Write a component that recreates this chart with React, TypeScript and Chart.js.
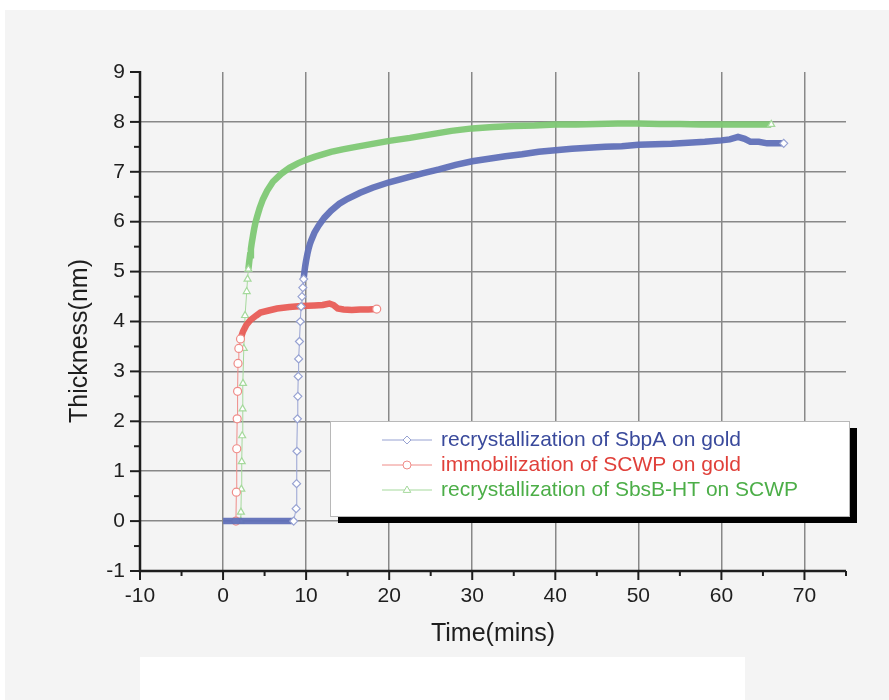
import React, { useEffect, useRef } from "react";
import { Chart, registerables } from "chart.js";

Chart.register(...registerables);

// ---------- data ----------
const sbpaTime = [0, 0.5, 1, 1.5, 2, 2.5, 3, 3.5, 4, 4.5, 5, 5.5, 6, 6.5, 7, 7.5, 8, 8.5,
  8.8, 8.85, 8.9, 8.95, 9.0, 9.05, 9.1, 9.2, 9.3, 9.4, 9.5, 9.6, 9.7, 9.8, 9.9,
  10, 10.15, 10.3, 10.45, 10.6, 11, 11.5, 12.2, 13, 14, 15, 16.5, 18,
  20, 22, 24, 26, 28, 30, 32, 34, 36, 38, 40, 42, 44, 46, 48, 50, 52, 54, 56, 58, 60,
  61, 62, 62.8, 63.5, 64.5, 65.5, 66.5, 67.5];
const sbpaThickness = [0, 0, 0, 0, 0, 0, 0, 0, 0, 0, 0, 0, 0, 0, 0, 0, 0, 0,
  0.25, 0.75, 1.4, 2.05, 2.5, 2.9, 3.25, 3.6, 4.0, 4.3, 4.5, 4.68, 4.85, 5.0, 5.12,
  5.22, 5.35, 5.46, 5.55, 5.62, 5.78, 5.92, 6.08, 6.22, 6.36, 6.46, 6.58, 6.68,
  6.79, 6.88, 6.97, 7.05, 7.14, 7.21, 7.26, 7.31, 7.35, 7.4, 7.43, 7.46, 7.48, 7.5, 7.51, 7.54, 7.55, 7.56, 7.58, 7.6, 7.63,
  7.65, 7.7, 7.66, 7.6, 7.6, 7.57, 7.57, 7.57];

const scwpTime = [1.55, 1.6, 1.65, 1.7, 1.75, 1.8, 1.9, 2.1, 2.4, 2.8,
  3.3, 4, 4.5, 5.5, 6.5, 8, 9.5, 11, 12, 12.8,
  13.3, 13.8, 14.5, 15.5, 16.5, 17.5, 18.5];
const scwpThickness = [0, 0.58, 1.45, 2.05, 2.6, 3.16, 3.46, 3.65, 3.8, 3.93,
  4.03, 4.12, 4.18, 4.22, 4.26, 4.29, 4.31, 4.32, 4.33, 4.36,
  4.33, 4.26, 4.24, 4.23, 4.24, 4.24, 4.25];

const sbsbTime = [2.1, 2.15, 2.2, 2.25, 2.3, 2.35, 2.4, 2.5, 2.65, 2.85,
  2.95, 3.05, 3.15, 3.25, 3.35, 3.45, 3.6, 3.75, 3.9, 4.1, 4.4, 4.8, 5.3, 6,
  7, 8, 9, 10, 11, 12, 13, 14.4, 16, 18,
  20, 22.5, 25, 27.5, 30, 32.5, 35, 37.5, 40, 42.5,
  45, 47.5, 50, 52.5, 55, 57.5, 60, 62.5, 64, 66];
const sbsbThickness = [0, 0.18, 0.64, 1.19, 1.71, 2.25, 2.76, 3.46, 4.12, 4.6,
  4.85, 5.05, 5.2, 5.33, 5.45, 5.57, 5.72, 5.86, 5.98, 6.1, 6.27, 6.45, 6.62, 6.8,
  6.96, 7.08, 7.17, 7.24, 7.3, 7.35, 7.4, 7.45, 7.5, 7.56,
  7.62, 7.68, 7.75, 7.82, 7.87, 7.9, 7.92, 7.93, 7.95, 7.95,
  7.96, 7.97, 7.97, 7.96, 7.96, 7.95, 7.95, 7.95, 7.95, 7.95];

const seriesLabels = [
  "recrystallization of SbpA on gold",
  "immobilization of SCWP on gold",
  "recrystallization of SbsB-HT on SCWP",
];

const xMajorTicks = [-10, 0, 10, 20, 30, 40, 50, 60, 70];
const xMinorTicks = [-5, 5, 15, 25, 35, 45, 55, 65, 75];
const yMajorTicks = [-1, 0, 1, 2, 3, 4, 5, 6, 7, 8, 9];
const yMinorTicks = [-0.5, 0.5, 1.5, 2.5, 3.5, 4.5, 5.5, 6.5, 7.5, 8.5];

const xTitle = "Time(mins)";
const yTitle = "Thickness(nm)";

// ---------- styles ----------
const FONT = "'Liberation Sans', Arial, sans-serif";
const styles = [
  { band: "rgba(96,112,184,0.95)", light: "#97a2d2", text: "#3a4a9c", shape: "rectRot" },
  { band: "rgba(232,92,86,0.95)", light: "#ef8c88", text: "#e0403a", shape: "circle" },
  { band: "rgba(126,200,116,0.95)", light: "#a5d99c", text: "#4cae48", shape: "triangle" },
];

// The steep rise of each series has sparse, separately visible markers; elsewhere
// the dense markers merge into a thick band.
const SPARSE_PX = 8;
function sparsePx(p0: { x: number; y: number }, p1: { x: number; y: number }) {
  const dx = Math.abs(p1.x - p0.x);
  const dy = Math.abs(p1.y - p0.y);
  return dy > 2 * dx && Math.sqrt(dx * dx + dy * dy) > SPARSE_PX;
}

// returns [start, end] indices of the first run of sparse segments
function sparseRun(chart: any, datasetIndex: number): [number, number] {
  const xs = chart.scales.x;
  const ys = chart.scales.y;
  const data = chart.data.datasets[datasetIndex].data as { x: number; y: number }[];
  if (!xs || !ys) return [-1, -1];
  const pts = data.map((d) => ({ x: xs.getPixelForValue(d.x), y: ys.getPixelForValue(d.y) }));
  let s = -1;
  for (let i = 0; i < pts.length - 1; i++) {
    if (sparsePx(pts[i], pts[i + 1])) { s = i; break; }
  }
  if (s < 0) return [-1, -1];
  let e = s;
  while (e < pts.length - 1 && sparsePx(pts[e], pts[e + 1])) e++;
  return [s, e];
}

function makeDataset(label: string, t: number[], v: number[], s: any) {
  return {
    label,
    data: t.map((tt, i) => ({ x: tt, y: v[i] })),
    borderColor: s.band,
    borderWidth: 6.5,
    pointStyle: s.shape,
    pointRadius: (c: any) => {
      const n = c.dataset.data.length;
      if (c.dataIndex === n - 1) return 4;
      const [rs, re] = sparseRun(c.chart, c.datasetIndex);
      return c.dataIndex >= rs && c.dataIndex <= re && rs >= 0 ? 4 : 0;
    },
    pointBorderColor: s.light,
    pointBackgroundColor: "#ffffff",
    pointBorderWidth: 1.2,
    tension: 0,
    fill: false,
    segment: {
      borderWidth: (c: any) => {
        const [rs, re] = sparseRun(c.chart, c.datasetIndex);
        return c.p0DataIndex >= rs && c.p0DataIndex < re ? 1 : 6.5;
      },
      borderColor: (c: any) => {
        const [rs, re] = sparseRun(c.chart, c.datasetIndex);
        return c.p0DataIndex >= rs && c.p0DataIndex < re ? s.light : s.band;
      },
    },
  };
}

function drawMarker(ctx: CanvasRenderingContext2D, shape: string, x: number, y: number, r: number) {
  ctx.beginPath();
  if (shape === "circle") {
    ctx.arc(x, y, r, 0, Math.PI * 2);
  } else if (shape === "rectRot") {
    ctx.moveTo(x, y - r);
    ctx.lineTo(x + r, y);
    ctx.lineTo(x, y + r);
    ctx.lineTo(x - r, y);
    ctx.closePath();
  } else {
    ctx.moveTo(x, y - r);
    ctx.lineTo(x + r * 0.95, y + r * 0.6);
    ctx.lineTo(x - r * 0.95, y + r * 0.6);
    ctx.closePath();
  }
  ctx.fill();
  ctx.stroke();
}

const decorPlugin = {
  id: "decor",
  afterDraw(chart: any) {
    const { ctx, chartArea: a, scales } = chart;
    const x = scales.x;
    const y = scales.y;
    ctx.save();
    // axis lines
    ctx.strokeStyle = "#1e1e1e";
    ctx.lineWidth = 2.5;
    ctx.beginPath();
    ctx.moveTo(a.left, a.top - 1);
    ctx.lineTo(a.left, a.bottom);
    ctx.lineTo(a.right, a.bottom);
    ctx.stroke();
    // ticks
    ctx.lineWidth = 2;
    const seg = (x1: number, y1: number, x2: number, y2: number) => {
      ctx.beginPath();
      ctx.moveTo(x1, y1);
      ctx.lineTo(x2, y2);
      ctx.stroke();
    };
    yMajorTicks.forEach((v) => { const p = y.getPixelForValue(v); seg(a.left - 10, p, a.left, p); });
    yMinorTicks.forEach((v) => { const p = y.getPixelForValue(v); seg(a.left - 6, p, a.left, p); });
    xMajorTicks.forEach((v) => { const p = x.getPixelForValue(v); seg(p, a.bottom, p, a.bottom + 9); });
    xMinorTicks.forEach((v) => { const p = x.getPixelForValue(v); seg(p, a.bottom, p, a.bottom + 5); });

    // titles
    ctx.fillStyle = "#1e1e1e";
    ctx.font = `25px ${FONT}`;
    ctx.textAlign = "center";
    ctx.textBaseline = "middle";
    ctx.fillText(xTitle, (a.left + a.right) / 2, 634);
    ctx.save();
    ctx.translate(80, 341);
    ctx.rotate(-Math.PI / 2);
    ctx.fillText(yTitle, 0, 0);
    ctx.restore();

    // legend box with shadow
    const bx = 330, by = 421, bw = 519, bh = 95;
    ctx.fillStyle = "#000000";
    ctx.fillRect(bx + 8, by + 7, bw, bh);
    ctx.fillStyle = "#ffffff";
    ctx.fillRect(bx, by, bw, bh);
    ctx.strokeStyle = "#b8b8b8";
    ctx.lineWidth = 1;
    ctx.strokeRect(bx + 0.5, by + 0.5, bw, bh);

    const rows = [440, 465, 490];
    ctx.font = `21px ${FONT}`;
    ctx.textAlign = "left";
    chart.data.datasets.forEach((ds: any, i: number) => {
      const s = styles[i];
      const ry = rows[i];
      ctx.strokeStyle = s.light;
      ctx.lineWidth = 1;
      seg(382, ry, 432, ry);
      ctx.fillStyle = "#ffffff";
      drawMarker(ctx, s.shape, 407, ry, 4);
      ctx.fillStyle = s.text;
      ctx.textBaseline = "middle";
      ctx.fillText(ds.label, 441, ry);
    });
    ctx.restore();
  },
};

export default function App() {
  const ref = useRef<HTMLCanvasElement | null>(null);
  useEffect(() => {
    if (!ref.current) return;
    Chart.defaults.font.family = FONT;
    const chart = new Chart(ref.current, {
      type: "line",
      data: {
        datasets: [
          makeDataset(seriesLabels[0], sbpaTime, sbpaThickness, styles[0]),
          makeDataset(seriesLabels[1], scwpTime, scwpThickness, styles[1]),
          makeDataset(seriesLabels[2], sbsbTime, sbsbThickness, styles[2]),
        ] as any,
      },
      options: {
        responsive: false,
        animation: false,
        layout: { padding: { left: 0, right: 43, top: 72, bottom: 0 } },
        plugins: { legend: { display: false }, tooltip: { enabled: false } },
        scales: {
          x: {
            type: "linear",
            min: -10,
            max: 75,
            afterFit: (s: any) => { s.height = 129; },
            afterBuildTicks: (s: any) => { s.ticks = xMajorTicks.map((v) => ({ value: v })); },
            ticks: { font: { size: 21 }, color: "#1e1e1e", padding: 13, maxRotation: 0 },
            grid: {
              drawTicks: false,
              lineWidth: 1.5,
              color: (c: any) => (c.tick && c.tick.value > -10 ? "#888888" : "rgba(0,0,0,0)"),
            },
            border: { display: false },
          },
          y: {
            type: "linear",
            min: -1,
            max: 9,
            afterFit: (s: any) => { s.width = 140; },
            afterBuildTicks: (s: any) => { s.ticks = yMajorTicks.map((v) => ({ value: v })); },
            ticks: { font: { size: 21 }, color: "#1e1e1e", padding: 15 },
            grid: {
              drawTicks: false,
              lineWidth: 1.5,
              color: (c: any) => (c.tick && c.tick.value > -1 && c.tick.value < 9 ? "#888888" : "rgba(0,0,0,0)"),
            },
            border: { display: false },
          },
        },
      },
      plugins: [decorPlugin],
    });
    return () => chart.destroy();
  }, []);

  return (
    <div style={{ position: "absolute", left: 0, top: 0, width: 889, height: 700, background: "#ffffff", overflow: "hidden" }}>
      <div style={{ position: "absolute", left: 5, top: 10, right: 0, bottom: 0, background: "#f4f4f4" }} />
      <div style={{ position: "absolute", left: 140, top: 657, width: 605, height: 43, background: "#ffffff" }} />
      <canvas ref={ref} width={889} height={700} style={{ position: "absolute", left: 0, top: 0, display: "block" }} />
    </div>
  );
}
